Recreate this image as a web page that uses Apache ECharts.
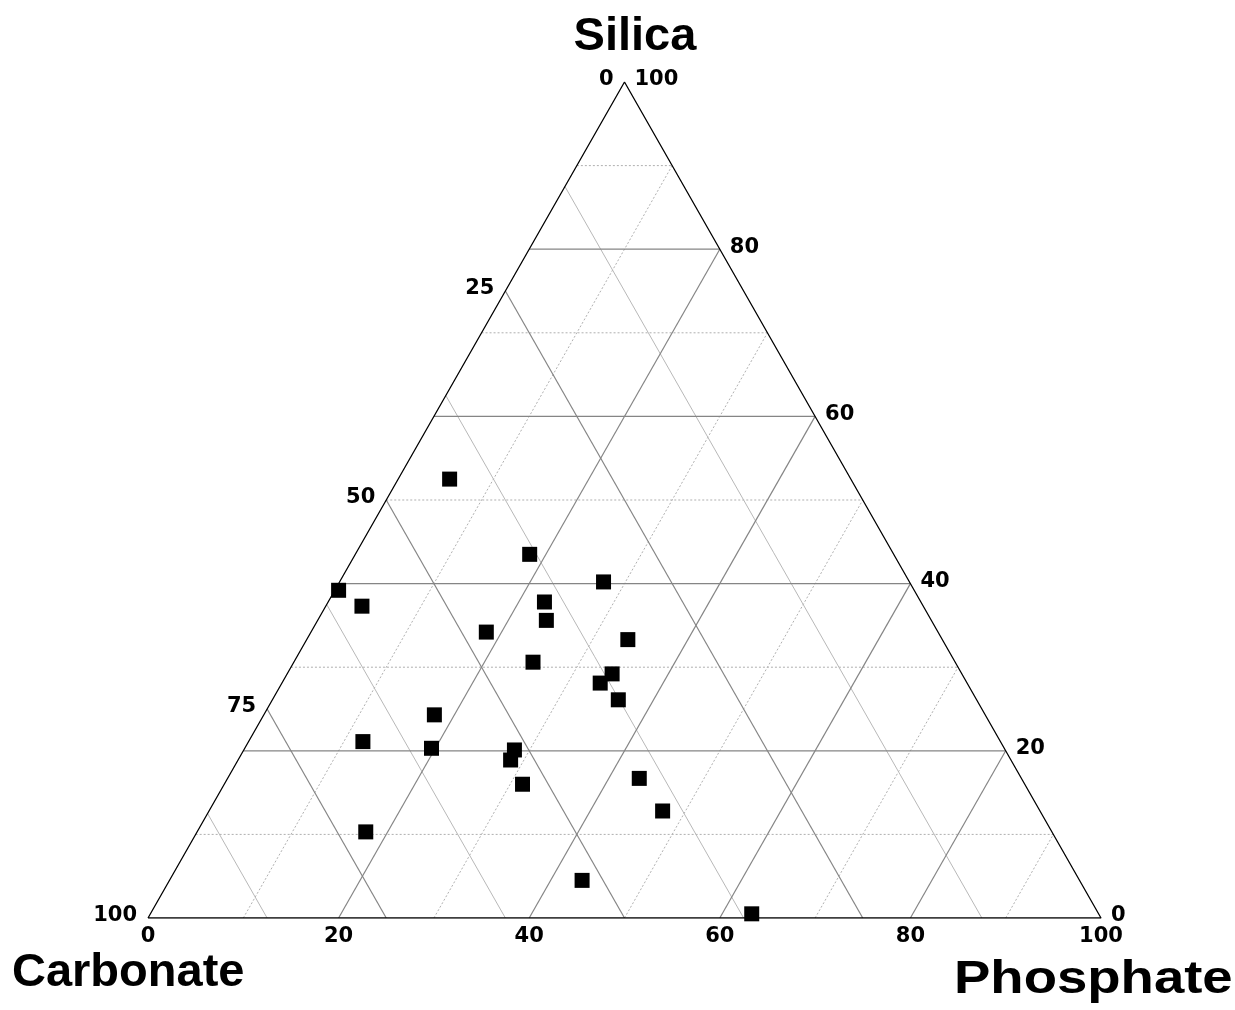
<!DOCTYPE html>
<html><head><meta charset="utf-8">
<script src="https://cdn.jsdelivr.net/npm/echarts@6/dist/echarts.min.js"></script>
<style>html,body{margin:0;padding:0;background:#fff}#c{width:1235px;height:1010px}</style>
</head><body><div id="c"></div>
<script>
// ---- Data (ternary percentages) ----
const silica    = [52.5,43.5,40.2,39.2,37.3,37.8,35.6,34.2,33.3,30.6,29.2,28.1,26.1,24.3,21.1,20.3,20.1,18.9,16.7,16.0,12.8,10.3,4.5,0.5];
const phosphate = [5.4,18.3,27.7,0.4,3.8,22.7,24.0,18.4,33.7,25.1,34.1,33.4,36.3,17.9,12.0,19.6,28.4,28.6,43.2,31.3,47.6,17.7,43.3,63.1];
const carbonate = [42.1,38.2,32.1,60.4,58.9,39.5,40.4,47.4,33.0,44.3,36.7,38.5,37.6,57.8,66.9,60.1,51.5,52.5,40.1,52.7,39.6,72.0,52.2,36.4];

// ---- Tick labels ----
const silicaTicks    = [0,20,40,60,80,100];   // right side
const phosphateTicks = [0,20,40,60,80,100];   // bottom
const carbonateTicks = [0,25,50,75,100];      // left side

// ---- Grid line levels ----
const silicaMajor = [20,40,60,80];
const silicaMinor = [10,30,50,70,90];
const phosphateMajor = [20,40,60,80];
const phosphateMinor = [10,30,50,70,90];
const carbonateMajor = [25,50,75];
const carbonateMinor = [12.5,37.5,62.5,87.5];

const axisNames = {top:'Silica', left:'Carbonate', right:'Phosphate'};

// ternary -> cartesian (x: 0..100 along base, y: silica 0..100)
function tern(s, p, c){
  const t = s + p + c;
  s = s / t * 100; p = p / t * 100;
  return [p + s / 2, s];
}

const series = [];
function gridLine(a, b, color, type, width){
  series.push({type:'line', data:[a,b], symbol:'none', silent:true, animation:false,
    lineStyle:{color:color, type:type, width:width}, z:1});
}
// minor lines
silicaMinor.forEach(s => gridLine(tern(s,0,100-s), tern(s,100-s,0), '#b0b0b0', [2,2], 1));
phosphateMinor.forEach(p => gridLine(tern(0,p,100-p), tern(100-p,p,0), '#b0b0b0', [2,2], 1));
carbonateMinor.forEach(c => gridLine(tern(100-c,0,c), tern(0,100-c,c), '#b8b8b8', 'solid', 1));
// major solid lines
silicaMajor.forEach(s => gridLine(tern(s,0,100-s), tern(s,100-s,0), '#858585', 'solid', 1.2));
phosphateMajor.forEach(p => gridLine(tern(0,p,100-p), tern(100-p,p,0), '#858585', 'solid', 1.2));
carbonateMajor.forEach(c => gridLine(tern(100-c,0,c), tern(0,100-c,c), '#858585', 'solid', 1.2));

// outline triangle
series.push({type:'line', data:[tern(0,0,100), tern(0,100,0), tern(100,0,0), tern(0,0,100)],
  symbol:'none', silent:true, animation:false, lineStyle:{color:'#000', width:1.3}, z:3});

const tickFont = {fontFamily:'DejaVu Sans', fontWeight:'bold', fontSize:21, color:'#000', opacity:1};
// bottom ticks (phosphate)
series.push({type:'scatter', symbolSize:0, silent:true, animation:false, z:4, itemStyle:{opacity:1},
  data: phosphateTicks.map(p => ({value: tern(0,p,100-p), name:String(p)})),
  label:Object.assign({show:true, position:'bottom', distance:8, formatter:'{b}'}, tickFont)});
// right ticks (silica)
series.push({type:'scatter', symbolSize:0, silent:true, animation:false, z:4, itemStyle:{opacity:1},
  data: silicaTicks.map(s => ({value: tern(s,100-s,0), name:String(s)})),
  label:Object.assign({show:true, position:'right', distance:10, offset:[0,-2], formatter:'{b}'}, tickFont)});
// left ticks (carbonate)
series.push({type:'scatter', symbolSize:0, silent:true, animation:false, z:4, itemStyle:{opacity:1},
  data: carbonateTicks.map(c => ({value: tern(100-c,0,c), name:String(c)})),
  label:Object.assign({show:true, position:'left', distance:11, offset:[0,-2], formatter:'{b}'}, tickFont)});

// data points
series.push({type:'scatter', symbol:'rect', symbolSize:15, animation:false, z:5,
  itemStyle:{color:'#000', opacity:1},
  data: silica.map((s,i) => tern(s, phosphate[i], carbonate[i]))});

const chart = echarts.init(document.getElementById('c'), null, {renderer:'canvas'});
const titleFont = 'bold 47px "Liberation Sans", Arial, sans-serif';
chart.setOption({
  backgroundColor:'#fff',
  animation:false,
  grid:{left:148, right:134, top:82, bottom:92},
  xAxis:{type:'value', min:0, max:100, show:false},
  yAxis:{type:'value', min:0, max:100, show:false},
  graphic:[
    {type:'text', x:635, y:37, style:{text:axisNames.top, font:titleFont, fill:'#000', align:'center', verticalAlign:'middle'}},
    {type:'text', x:12, y:973, style:{text:axisNames.left, font:titleFont, fill:'#000', align:'left', verticalAlign:'middle'}},
    {type:'text', x:954, y:980, scaleX:1.16, originX:0, style:{text:axisNames.right, font:titleFont, fill:'#000', align:'left', verticalAlign:'middle'}}
  ],
  series: series
});
</script>
</body></html>
